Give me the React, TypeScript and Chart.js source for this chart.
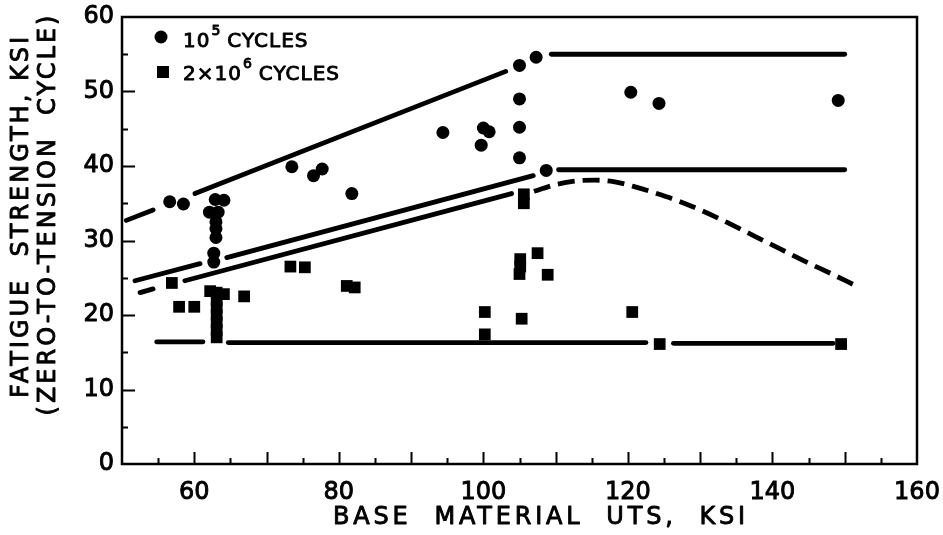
import React, { useEffect, useRef } from "react";
import { Chart, registerables } from "chart.js";

Chart.register(...registerables);

const FONT = "'DejaVu Sans', sans-serif";
const INK = "#000";

// Axis ranges and labelled ticks
const xRange = [50, 160];
const yRange = [0, 60];
const xLabelled = [60, 80, 100, 120, 140, 160];
const yLabelled = [0, 10, 20, 30, 40, 50, 60];

// 10^5 cycles (filled circles)
const c1e5X = [56.6, 58.5, 62.9, 64.1, 62.1, 63.3, 63.0, 63.0, 63.0, 62.7, 62.7, 73.5, 76.5, 77.7, 81.8, 94.4, 100.0, 100.8, 99.7, 105.0, 107.3, 105.0, 105.0, 105.0, 108.7, 120.4, 124.3, 149.1];
const c1e5Y = [35.2, 34.9, 35.5, 35.4, 33.8, 33.8, 32.5, 31.6, 30.4, 28.3, 27.1, 39.9, 38.7, 39.6, 36.3, 44.5, 45.1, 44.6, 42.8, 53.5, 54.6, 49.0, 45.2, 41.1, 39.4, 49.9, 48.4, 48.8];

// 2x10^6 cycles (filled squares)
const c2e6X = [56.9, 57.9, 60.0, 62.2, 64.1, 63.1, 63.1, 63.1, 63.1, 63.1, 63.1, 63.1, 66.9, 73.3, 75.3, 81.1, 82.2, 105.6, 105.6, 105.1, 105.1, 105.0, 107.5, 108.9, 100.2, 100.2, 105.3, 120.6, 124.4, 149.5];
const c2e6Y = [24.3, 21.1, 21.1, 23.2, 22.8, 23.0, 22.0, 21.0, 20.0, 19.0, 18.0, 17.0, 22.5, 26.5, 26.4, 23.9, 23.7, 36.2, 35.0, 27.5, 26.5, 25.5, 28.3, 25.4, 20.4, 17.4, 19.5, 20.4, 16.1, 16.1];

// Upper 10^5 band line (broken around points)
const upperAX = [50.6, 54.3];
const upperAY = [32.7, 34.1];
const upperBX = [60.1, 103.1];
const upperBY = [36.3, 52.7];
const upperFlatX = [109.4, 150.0];
const upperFlatY = [55.0, 55.0];

// Lower 10^5 band line
const midAX = [51.8, 60.8];
const midAY = [24.6, 26.9];
const midBX = [64.5, 106.9];
const midBY = [27.7, 38.7];
const midFlatX = [110.4, 150.0];
const midFlatY = [39.5, 39.5];

// Upper 2x10^6 band line and its dashed continuation
const lowAX = [52.5, 54.3];
const lowAY = [23.0, 23.5];
const lowBX = [58.7, 103.9];
const lowBY = [24.6, 36.3];
const lowDashX = [107.0, 110.0, 113.0, 115.5, 118.0, 121.0, 124.0, 127.0, 130.5, 134.0, 137.5, 141.0, 144.5, 148.0, 151.6];
const lowDashY = [36.6, 37.5, 38.0, 38.1, 37.9, 37.2, 36.3, 35.3, 33.9, 32.3, 30.6, 28.9, 27.2, 25.6, 23.9];

// Lower 2x10^6 band line
const baseAX = [54.8, 61.2];
const baseAY = [16.4, 16.4];
const baseBX = [64.7, 122.5];
const baseBY = [16.3, 16.3];
const baseCX = [126.3, 148.4];
const baseCY = [16.2, 16.2];

const pts = (xs: number[], ys: number[]) => xs.map((x, i) => ({ x, y: ys[i] }));

const lineSet = (label: string, xs: number[], ys: number[], dashed = false) => ({
  label,
  data: pts(xs, ys),
  showLine: true,
  borderColor: INK,
  backgroundColor: INK,
  borderWidth: 4.8,
  borderCapStyle: dashed ? "butt" : "round",
  borderDash: dashed ? [17, 8] : [],
  tension: dashed ? 0.4 : 0,
  cubicInterpolationMode: dashed ? "monotone" : "default",
  pointRadius: 0,
  pointHoverRadius: 0,
});

const noScalePadding = (s: any) => {
  s.paddingLeft = 0;
  s.paddingRight = 0;
  s.paddingTop = 0;
  s.paddingBottom = 0;
};

// filled text with a thin outline for the heavier lettering
const inkText = (ctx: CanvasRenderingContext2D, s: string, x: number, y: number) => {
  ctx.fillText(s, x, y);
  ctx.strokeText(s, x, y);
};

const frameAndTicks = {
  id: "frameAndTicks",
  afterDraw(chart: any) {
    const { ctx, chartArea: a, scales } = chart;
    const xs = scales.x;
    const ys = scales.y;
    ctx.save();
    ctx.strokeStyle = INK;
    ctx.lineWidth = 2;
    ctx.beginPath();
    for (let v = 55; v < 160; v += 5) {
      const px = Math.round(xs.getPixelForValue(v)) + 0.5;
      const len = v % 10 === 0 ? 12 : 6;
      ctx.moveTo(px, a.bottom);
      ctx.lineTo(px, a.bottom - len);
    }
    for (let v = 5; v < 60; v += 5) {
      const py = Math.round(ys.getPixelForValue(v)) + 0.5;
      const len = v % 10 === 0 ? 13 : 6;
      ctx.moveTo(a.left, py);
      ctx.lineTo(a.left + len, py);
    }
    ctx.stroke();
    ctx.lineWidth = 2.5;
    ctx.strokeRect(a.left, a.top, a.right - a.left, a.bottom - a.top);

    // axis titles
    ctx.fillStyle = INK;
    ctx.lineWidth = 0.9;
    ctx.lineJoin = "round";
    ctx.textAlign = "center";
    ctx.textBaseline = "middle";
    ctx.font = `24px ${FONT}`;
    ctx.letterSpacing = "3.8px";
    inkText(ctx, "BASE  MATERIAL  UTS,  KSI", 541, 518);
    ctx.letterSpacing = "3px";
    ctx.save();
    ctx.translate(22, 216);
    ctx.rotate(-Math.PI / 2);
    inkText(ctx, "FATIGUE  STRENGTH, KSI", 0, 0);
    ctx.restore();
    ctx.save();
    ctx.translate(49, 214);
    ctx.rotate(-Math.PI / 2);
    inkText(ctx, "(ZERO-TO-TENSION  CYCLE)", 0, 0);
    ctx.restore();

    // key
    ctx.textAlign = "left";
    ctx.textBaseline = "alphabetic";
    ctx.letterSpacing = "1px";
    ctx.beginPath();
    ctx.arc(161, 37, 6.5, 0, Math.PI * 2);
    ctx.fill();
    ctx.fillRect(157, 66, 12, 12);
    const big = `20px ${FONT}`;
    const small = `14px ${FONT}`;
    let x = 183;
    ctx.font = big;
    inkText(ctx, "10", x, 47);
    x += ctx.measureText("10").width + 1;
    ctx.font = small;
    inkText(ctx, "5", x, 35);
    x += ctx.measureText("5").width + 6;
    ctx.font = big;
    inkText(ctx, "CYCLES", x, 47);
    x = 183;
    inkText(ctx, "2×10", x, 80);
    x += ctx.measureText("2×10").width + 1;
    ctx.font = small;
    inkText(ctx, "6", x, 68);
    x += ctx.measureText("6").width + 6;
    ctx.font = big;
    inkText(ctx, "CYCLES", x, 80);
    ctx.restore();
  },
};

export default function App() {
  const ref = useRef<HTMLCanvasElement | null>(null);

  useEffect(() => {
    if (!ref.current) return;
    const chart = new Chart(ref.current, {
      type: "scatter",
      data: {
        datasets: [
          lineSet("upperA", upperAX, upperAY),
          lineSet("upperB", upperBX, upperBY),
          lineSet("upperFlat", upperFlatX, upperFlatY),
          lineSet("midA", midAX, midAY),
          lineSet("midB", midBX, midBY),
          lineSet("midFlat", midFlatX, midFlatY),
          lineSet("lowA", lowAX, lowAY),
          lineSet("lowB", lowBX, lowBY),
          lineSet("lowDash", lowDashX, lowDashY, true),
          lineSet("baseA", baseAX, baseAY),
          lineSet("baseB", baseBX, baseBY),
          lineSet("baseC", baseCX, baseCY),
          {
            label: "10^5 cycles",
            data: pts(c1e5X, c1e5Y),
            pointStyle: "circle",
            pointRadius: 6.5,
            pointHoverRadius: 6.5,
            backgroundColor: INK,
            borderColor: INK,
            borderWidth: 0,
          },
          {
            label: "2x10^6 cycles",
            data: pts(c2e6X, c2e6Y),
            pointStyle: "rect",
            pointRadius: 8.3,
            pointHoverRadius: 8.3,
            backgroundColor: INK,
            borderColor: INK,
            borderWidth: 0,
          },
        ] as any,
      },
      options: {
        animation: false,
        responsive: false,
        events: [],
        layout: { padding: { left: 0, top: 17, right: 26, bottom: 0 } },
        plugins: { legend: { display: false }, tooltip: { enabled: false } },
        scales: {
          x: {
            type: "linear",
            min: xRange[0],
            max: xRange[1],
            grid: { display: false, drawTicks: false },
            border: { display: false },
            ticks: {
              stepSize: 5,
              autoSkip: false,
              maxRotation: 0,
              padding: 14,
              color: INK,
              textStrokeColor: INK,
              textStrokeWidth: 0.9,
              font: { family: FONT, size: 24 },
              callback: (v: any) => (xLabelled.includes(Number(v)) ? String(v) : ""),
            },
            afterFit: (s: any) => {
              s.height = 71;
              noScalePadding(s);
            },
          },
          y: {
            type: "linear",
            min: yRange[0],
            max: yRange[1],
            grid: { display: false, drawTicks: false },
            border: { display: false },
            ticks: {
              stepSize: 5,
              autoSkip: false,
              padding: 8,
              color: INK,
              textStrokeColor: INK,
              textStrokeWidth: 0.9,
              font: { family: FONT, size: 24 },
              callback: (v: any) => (yLabelled.includes(Number(v)) ? String(v) : ""),
            },
            afterFit: (s: any) => {
              s.width = 122;
              noScalePadding(s);
            },
          },
        },
      },
      plugins: [frameAndTicks],
    });
    return () => chart.destroy();
  }, []);

  return (
    <div style={{ position: "fixed", left: 0, top: 0, width: 943, height: 535, background: "#fff" }}>
      <canvas ref={ref} width={943} height={535} style={{ display: "block" }} />
    </div>
  );
}
